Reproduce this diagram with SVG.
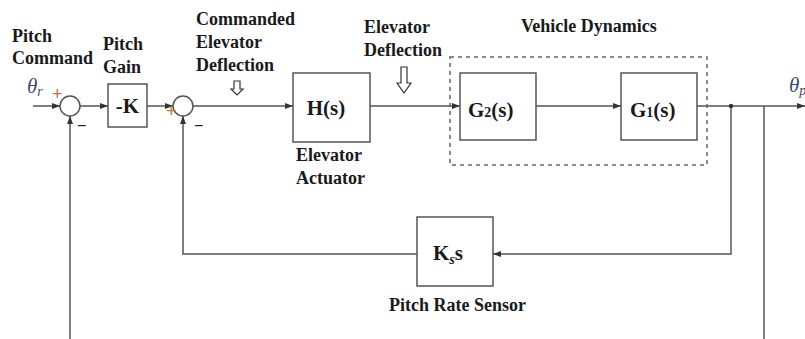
<svg xmlns="http://www.w3.org/2000/svg" width="805" height="339" viewBox="0 0 805 339">
<style>
.ln{fill:none;stroke:#555;stroke-width:1.5}
.bx{fill:#fff;stroke:#555;stroke-width:1.5}
.lb{font-family:"Liberation Serif",serif;font-weight:bold;font-size:18px;fill:#1a1a1a}
.bt{font-family:"Liberation Serif",serif;font-weight:bold;font-size:21px;fill:#1a1a1a}
.th{font-family:"Liberation Serif",serif;font-style:italic;font-size:21px;fill:#3d4a6a}
.sg{font-family:"Liberation Sans",sans-serif;font-size:16px;fill:#1a1a1a}
.pl{font-family:"Liberation Sans",sans-serif;font-size:18px;fill:#c07830}
.hol{fill:#fff;stroke:#333;stroke-width:1.2}
</style>
<defs>
<marker id="ar" markerWidth="8" markerHeight="6" refX="8" refY="3" orient="auto" markerUnits="userSpaceOnUse">
<path d="M0,0 L8,3 L0,6 z" fill="#333"/>
</marker>
</defs>
<rect width="805" height="339" fill="#fff"/>
<g id="connectors">
<path class="ln" d="M33,106 H60" marker-end="url(#ar)"/>
<path class="ln" d="M80,106 H108" marker-end="url(#ar)"/>
<path class="ln" d="M147,106 H173" marker-end="url(#ar)"/>
<path class="ln" d="M193,106 H293" marker-end="url(#ar)"/>
<path class="ln" d="M370,106 H460" marker-end="url(#ar)"/>
<path class="ln" d="M536,106 H621" marker-end="url(#ar)"/>
<path class="ln" d="M697,106 H805" marker-end="url(#ar)"/>
<path class="ln" d="M731,106 V254 H493" marker-end="url(#ar)"/>
<path class="ln" d="M417,254 H183 V116" marker-end="url(#ar)"/>
<path class="ln" d="M764,106 V339"/>
<path class="ln" d="M70,339 V116" marker-end="url(#ar)"/>
<circle cx="731" cy="106" r="2.2" fill="#333"/>
</g>
<g id="vehicle-dynamics">
<rect x="450" y="57" width="257" height="108" fill="none" stroke="#666" stroke-width="1.5" stroke-dasharray="4,4"/>
<text class="lb" x="521" y="32">Vehicle Dynamics</text>
</g>
<g id="sum1">
<circle class="bx" cx="70" cy="106" r="10"/>
<text class="pl" x="52" y="100">+</text>
<text class="sg" x="77" y="131">−</text>
</g>
<g id="sum2">
<circle class="bx" cx="183" cy="106" r="10"/>
<text class="pl" x="166" y="117">+</text>
<text class="sg" x="194" y="131">−</text>
</g>
<g id="gain">
<rect class="bx" x="108" y="84" width="39" height="43"/>
<text class="bt" x="127.5" y="113" text-anchor="middle">-K</text>
</g>
<g id="actuator">
<rect class="bx" x="293" y="73" width="77" height="69"/>
<text class="bt" x="326" y="115" text-anchor="middle">H(s)</text>
<text class="lb" x="296" y="161">Elevator</text>
<text class="lb" x="296" y="184">Actuator</text>
</g>
<g id="g2">
<rect class="bx" x="460" y="73" width="76" height="67"/>
<text class="bt" x="468" y="117">G<tspan font-size="14">2</tspan>(s)</text>
</g>
<g id="g1">
<rect class="bx" x="621" y="73" width="76" height="67"/>
<text class="bt" x="630" y="117">G<tspan font-size="14">1</tspan>(s)</text>
</g>
<g id="sensor">
<rect class="bx" x="417" y="217" width="76" height="69"/>
<text class="bt" x="433" y="260">K<tspan font-size="14" font-style="italic" dy="4">s</tspan><tspan dy="-4">s</tspan></text>
<text class="lb" x="389" y="311">Pitch Rate Sensor</text>
</g>
<g id="labels">
<text class="lb" x="12" y="42">Pitch</text>
<text class="lb" x="12" y="64">Command</text>
<text class="lb" x="103" y="50">Pitch</text>
<text class="lb" x="103" y="73">Gain</text>
<text class="lb" x="196" y="25">Commanded</text>
<text class="lb" x="196" y="48">Elevator</text>
<text class="lb" x="196" y="71">Deflection</text>
<text class="lb" x="364" y="33">Elevator</text>
<text class="lb" x="364" y="56">Deflection</text>
<text class="th" x="27" y="93">θ<tspan font-size="14" dy="3">r</tspan></text>
<text class="th" x="789" y="92">θ<tspan font-size="14" dy="3">p</tspan></text>
<path class="hol" d="M234,81 H240 V89 H243 L237,95 L231,89 H234 Z"/>
<path class="hol" d="M401,67 H407 V83 H411 L404,93 L397,83 H401 Z"/>
</g>
</svg>
